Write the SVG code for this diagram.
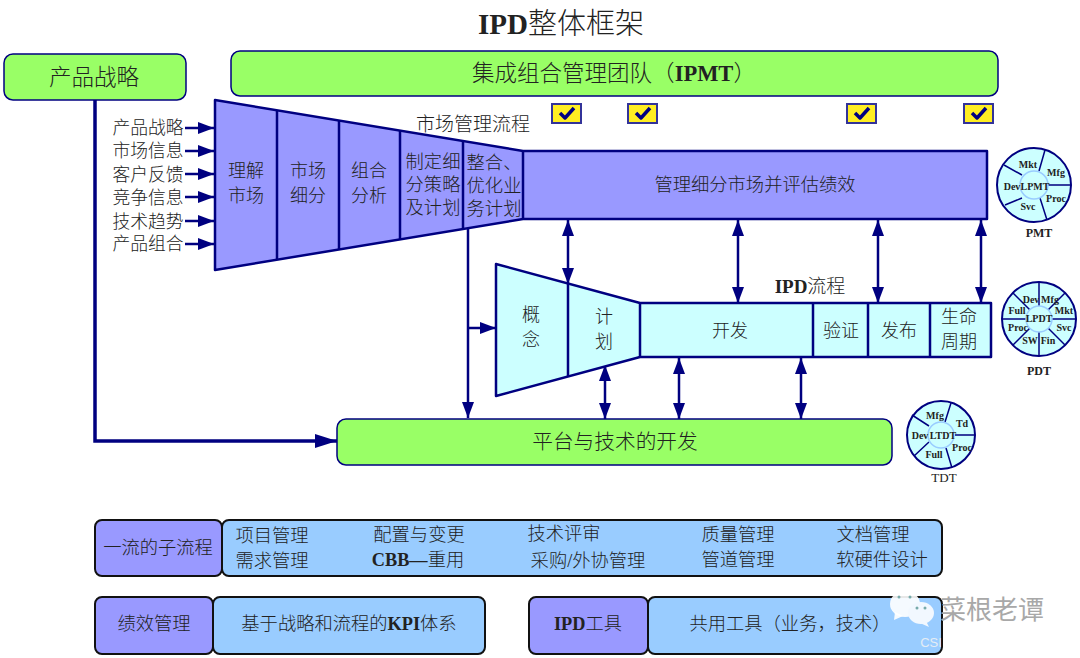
<svg xmlns="http://www.w3.org/2000/svg" width="1080" height="658" viewBox="0 0 1080 658">
<style>
text{font-family:"Liberation Serif","Noto Sans CJK SC",serif;fill:#222;text-anchor:middle}
.c{font-family:"Noto Sans CJK SC","Liberation Sans",sans-serif;font-weight:300}
.s{font-size:18.300px}
.u{font-size:17.800px}
.m{font-size:18px}
.l{font-size:22.500px}
.g{fill:#99ff66;stroke:#000080;stroke-width:1.5}
.p{fill:#9999ff;stroke:#000080;stroke-width:2.5;stroke-linejoin:round}
.q{fill:#ccffff;stroke:#000080;stroke-width:2.5;stroke-linejoin:round}
.b{fill:#99ccff;stroke:#111;stroke-width:2}
.v{fill:#9999ff;stroke:#111;stroke-width:2}
.d{fill:none;stroke:#000080;stroke-width:2.5}
.n{fill:none;stroke:#000080;stroke-width:1.5}
.a{fill:none;stroke:#000080;stroke-width:2.5}
.w{fill:#ccffff;stroke:#000080;stroke-width:2}
.i{fill:#ccffff;stroke:#99ccff;stroke-width:1.5}
.t{font-size:10px;font-weight:bold}
.k{fill:#ffee22;stroke:#333399;stroke-width:2}
.h{fill:none;stroke:#000080;stroke-width:3.500;stroke-linejoin:round}
</style>
<defs>
<marker id="e" markerUnits="userSpaceOnUse" markerWidth="22" markerHeight="14" refX="22" refY="7" orient="auto-start-reverse"><path d="M0 0L22 7L0 14Z" fill="#000080"/></marker>
<marker id="f" markerUnits="userSpaceOnUse" markerWidth="16" markerHeight="12" refX="16" refY="6" orient="auto-start-reverse"><path d="M0 0L16 6L0 12Z" fill="#000080"/></marker>
</defs>
<text x="561" y="34" font-size="29" font-weight="bold" id="title">IPD<tspan class="c" font-weight="400">整体框架</tspan></text>

<g id="connectors">
<path class="a" marker-end="url(#e)" d="M95 100V441H337" style="stroke-width:3.500"/>
<path class="a" marker-end="url(#f)" d="M468 229V418"/>
<path class="a" marker-end="url(#f)" d="M468 328H496"/>
<path class="a" marker-start="url(#f)" marker-end="url(#f)" d="M568 220V284"/>
<path class="a" marker-start="url(#f)" marker-end="url(#f)" d="M738 220V303"/>
<path class="a" marker-start="url(#f)" marker-end="url(#f)" d="M878 220V303"/>
<path class="a" marker-start="url(#f)" marker-end="url(#f)" d="M981 220V303"/>
<path class="a" marker-start="url(#f)" marker-end="url(#f)" d="M605 365V419"/>
<path class="a" marker-start="url(#f)" marker-end="url(#f)" d="M679 358V419"/>
<path class="a" marker-start="url(#f)" marker-end="url(#f)" d="M801 358V419"/>
<path class="a" marker-end="url(#f)" d="M185 128H214"/>
<path class="a" marker-end="url(#f)" d="M185 151H214"/>
<path class="a" marker-end="url(#f)" d="M185 174H214"/>
<path class="a" marker-end="url(#f)" d="M185 197H214"/>
<path class="a" marker-end="url(#f)" d="M185 221H214"/>
<path class="a" marker-end="url(#f)" d="M185 244H214"/>
</g>

<g id="strategy"><rect class="g" x="4" y="54" width="182" height="46" rx="9"/><text class="c l" x="94" y="85">产品战略</text></g>
<g id="ipmt"><rect class="g" x="231" y="51" width="767" height="45" rx="9"/><text class="l" x="614" y="81"><tspan class="c">集成组合管理团队（</tspan><tspan font-weight="bold">IPMT</tspan><tspan class="c">）</tspan></text></g>

<g id="inputs">
<text class="c u" x="148" y="134">产品战略</text>
<text class="c u" x="148" y="157">市场信息</text>
<text class="c u" x="148" y="181">客户反馈</text>
<text class="c u" x="148" y="204">竞争信息</text>
<text class="c u" x="148" y="228">技术趋势</text>
<text class="c u" x="148" y="250">产品组合</text>
</g>

<g id="checks">
<g><rect class="k" x="552" y="104" width="29" height="19"/><path class="h" d="M560 113L565 118L574 108"/></g>
<g><rect class="k" x="628" y="104" width="29" height="19"/><path class="h" d="M636 113L641 118L650 108"/></g>
<g><rect class="k" x="847" y="104" width="29" height="19"/><path class="h" d="M855 113L860 118L869 108"/></g>
<g><rect class="k" x="964" y="104" width="29" height="19"/><path class="h" d="M972 113L977 118L986 108"/></g>
</g>

<text class="c" id="mmlabel" x="473" y="131" font-size="19">市场管理流程</text>

<g id="funnel1">
<path class="p" d="M215 100L523 151H987V219H523L215 270Z"/>
<path class="d" d="M277 110.300V259.700M339 120.500V249.500M400 130.600V239.400M463 141V229M523 151V219"/>
<text class="c m" x="246" y="177">理解</text><text class="c m" x="246" y="202">市场</text>
<text class="c m" x="308" y="177">市场</text><text class="c m" x="308" y="202">细分</text>
<text class="c m" x="369" y="177">组合</text><text class="c m" x="369" y="202">分析</text>
<text class="c s" x="433" y="168">制定细</text><text class="c s" x="433" y="191">分策略</text><text class="c s" x="433" y="214">及计划</text>
<text class="c s" x="494" y="169">整合、</text><text class="c s" x="494" y="192">优化业</text><text class="c s" x="494" y="215">务计划</text>
<text class="c s" x="755" y="191">管理细分市场并评估绩效</text>
</g>

<text id="ipdlabel" x="810" y="293" font-size="19"><tspan font-weight="bold">IPD</tspan><tspan class="c">流程</tspan></text>

<g id="funnel2">
<path class="q" d="M496 264L640 303H991V357H640L496 396Z"/>
<path class="d" d="M568 283.500V376.500M640 303V357M813 303V357M868 303V357M930 303V357"/>
<text class="c m" x="531" y="321">概</text><text class="c m" x="531" y="346">念</text>
<text class="c m" x="604" y="323">计</text><text class="c m" x="604" y="348">划</text>
<text class="c m" x="730" y="337">开发</text>
<text class="c m" x="841" y="337">验证</text>
<text class="c m" x="899" y="337">发布</text>
<text class="c m" x="959" y="323">生命</text><text class="c m" x="959" y="348">周期</text>
</g>

<g id="platform"><rect class="g" x="337" y="419" width="555" height="46" rx="9"/><text class="c" x="615" y="449" font-size="20.700">平台与技术的开发</text></g>

<g id="pmt">
<circle class="w" cx="1034" cy="185" r="37"/>
<path class="n" d="M1039 171L1045 150M1048 185H1071M1040 198L1047 220M1022 198L1005 205M1022 175L1004 165"/>
<circle class="i" cx="1034" cy="185" r="14"/>
<text class="t" x="1028" y="168">Mkt</text><text class="t" x="1056" y="176">Mfg</text><text class="t" x="1056" y="202">Proc</text><text class="t" x="1028" y="210">Svc</text><text class="t" x="1012" y="190">Dev</text><text class="t" x="1035" y="190">LPMT</text>
<text x="1039" y="237" font-size="12" font-weight="bold">PMT</text>
</g>

<g id="pdt">
<circle class="w" cx="1039" cy="319" r="37"/>
<path class="n" d="M1039 307V282M1039 331V356M1027 319H1002M1051 319H1076M1030 310L1013 293M1048 310L1065 293M1030 328L1013 345M1048 328L1065 345"/>
<circle class="i" cx="1039" cy="319" r="13"/>
<text class="t" x="1031" y="303">Dev</text><text class="t" x="1050" y="303">Mfg</text><text class="t" x="1064" y="314">Mkt</text><text class="t" x="1064" y="331">Svc</text><text class="t" x="1048" y="344">Fin</text><text class="t" x="1030" y="344">SW</text><text class="t" x="1018" y="331">Proc</text><text class="t" x="1017" y="314">Full</text><text class="t" x="1039" y="322">LPDT</text>
<text x="1039" y="375" font-size="12" font-weight="bold">PDT</text>
</g>

<g id="tdt">
<circle class="w" cx="941" cy="435" r="34"/>
<path class="n" d="M945 422L951 403M955 435H975M946 448L952 468M929 442L914 456M929 426L912 415"/>
<circle class="i" cx="941" cy="435" r="13"/>
<text class="t" x="935" y="419">Mfg</text><text class="t" x="962" y="427">Td</text><text class="t" x="962" y="451">Proc</text><text class="t" x="934" y="458">Full</text><text class="t" x="920" y="439">Dev</text><text class="t" x="943" y="439">LTDT</text>
<text x="944" y="482" font-size="13">TDT</text>
</g>

<g id="sub">
<rect class="v" x="95" y="520" width="127" height="56" rx="7"/><text class="c s" x="158" y="554">一流的子流程</text>
<rect class="b" x="222" y="520" width="720" height="56" rx="7"/>
<text class="c s" x="272" y="542">项目管理</text><text class="c s" x="419" y="541">配置与变更</text><text class="c s" x="564" y="540">技术评审</text><text class="c s" x="738" y="541">质量管理</text><text class="c s" x="873" y="541">文档管理</text>
<text class="c s" x="272" y="567">需求管理</text><text class="s" x="418" y="566"><tspan font-weight="bold">CBB—</tspan><tspan class="c">重用</tspan></text><text class="s" x="588" y="567"><tspan class="c">采购</tspan>/<tspan class="c">外协管理</tspan></text><text class="c s" x="738" y="566">管道管理</text><text class="c s" x="882" y="566">软硬件设计</text>
</g>

<g id="kpi">
<rect class="v" x="95" y="597" width="118" height="57" rx="7"/><text class="c s" x="154" y="630">绩效管理</text>
<rect class="b" x="213" y="597" width="272" height="57" rx="7"/><text class="s" x="349" y="630"><tspan class="c">基于战略和流程的</tspan><tspan font-weight="bold">KPI</tspan><tspan class="c">体系</tspan></text>
</g>

<g id="tools">
<rect class="v" x="529" y="597" width="119" height="57" rx="7"/><text class="s" x="588" y="630"><tspan font-weight="bold">IPD</tspan><tspan class="c">工具</tspan></text>
<rect class="b" x="648" y="597" width="294" height="57" rx="7"/><text class="c s" x="790" y="630">共用工具（业务，技术）</text>
</g>

<g id="watermark">
<ellipse cx="905" cy="604" rx="15" ry="13" fill="#fff" fill-opacity=".9"/><path d="M895 612L894 620L903 616Z" fill="#fff" fill-opacity=".9"/>
<ellipse cx="921" cy="613" rx="13" ry="11" fill="#f2f8ff"/><path d="M926 621L929 627L920 623Z" fill="#f2f8ff"/>
<circle cx="899" cy="597" r="1.500" fill="#7aa"/><circle cx="910" cy="597" r="1.500" fill="#7aa"/><circle cx="917" cy="608" r="1.500" fill="#7aa"/><circle cx="925" cy="608" r="1.500" fill="#7aa"/>
<text class="c" x="992" y="619" font-size="26" style="fill:#a8a8a8;font-weight:400">菜根老谭</text>
<text x="931" y="647" font-size="13" style="font-family:'Liberation Sans',sans-serif;fill:#e4ecf5">CSI</text>
</g>
</svg>
